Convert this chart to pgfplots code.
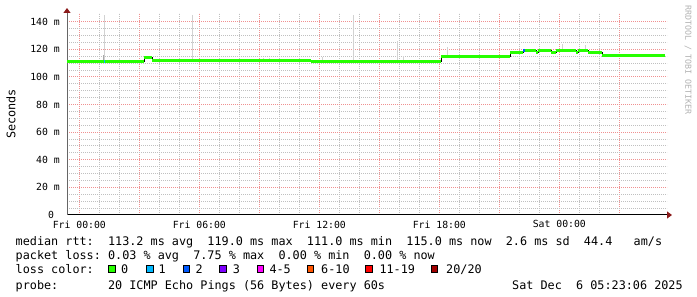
\documentclass[border=0pt]{standalone}
\usepackage{pgfplots}
\pgfplotsset{compat=1.18}
\usepackage{fontspec}
\setmainfont{DejaVu Sans Mono}
\setmonofont{DejaVu Sans Mono}
\usetikzlibrary{arrows.meta}
\definecolor{mgrid}{HTML}{F09090}
\definecolor{ngrid}{HTML}{C0C0C0}
\definecolor{arrowred}{HTML}{8B1A1A}
\definecolor{smoke}{HTML}{D2D2D2}
\definecolor{smokedk}{HTML}{A8A8A8}
\definecolor{lc0}{HTML}{26FF00}
\definecolor{lc1}{HTML}{00B8FF}
\definecolor{lc2}{HTML}{0059FF}
\definecolor{lc3}{HTML}{7E00FF}
\definecolor{lc4}{HTML}{FF00FF}
\definecolor{lc6}{HTML}{FF5500}
\definecolor{lc11}{HTML}{FF0000}
\definecolor{lc20}{HTML}{A00000}
\newcommand{\lgfont}{\fontsize{11.8bp}{14bp}\selectfont}
\newcommand{\tkfont}{\fontsize{9.8bp}{11bp}\selectfont}
\begin{document}
\begin{tikzpicture}
\begin{axis}[
  at={(67bp,82bp)}, anchor=south west,
  scale only axis, width=600bp, height=202bp,
  xmin=-0.617, xmax=29.383, ymin=0, ymax=146.3,
  axis x line=bottom, axis y line=left,
  x axis line style={draw=black, line width=1bp, -{Triangle[length=5bp,width=7bp,color=arrowred,fill=arrowred]}, shorten >=-5bp},
  y axis line style={draw=black!60, line width=1bp, -{Triangle[length=5bp,width=7bp,color=arrowred,fill=arrowred]}, shorten >=-5bp},
  xtick={0,3,...,27},
  xticklabels={Fri 00:00,,Fri 06:00,,Fri 12:00,,Fri 18:00,,Sat 00:00,},
  minor x tick num=2,
  ytick={0,20,...,140},
  yticklabels={0~~,20 m,40 m,60 m,80 m,100 m,120 m,140 m},
  minor y tick num=3,
  major tick length=0pt, minor tick length=0pt,
  grid=both,
  major grid style={mgrid, line width=1bp, dash pattern=on 1bp off 1bp},
  minor grid style={ngrid, line width=1bp, dash pattern=on 1bp off 1bp},
  xticklabel style={font=\tkfont, inner sep=0pt, anchor=north, yshift=-5.5bp},
  yticklabel style={font=\tkfont, inner sep=0pt, anchor=east, xshift=-7bp},
  clip=false,
]
% smoke spikes
\addplot[smoke, line width=1.2bp] coordinates {(1.275,111.3) (1.275,145)};
\addplot[smokedk, line width=1bp] coordinates {(1.22,111.3) (1.22,116)};
\addplot[smoke, line width=1.2bp] coordinates {(5.65,112.2) (5.65,145)};
\addplot[smoke, line width=1.2bp] coordinates {(13.7,111.0) (13.7,145)};
\addplot[smoke, line width=1.5bp] coordinates {(15.9,111.0) (15.9,126)};
\addplot[smoke, line width=1bp] coordinates {(16.2,111.0) (16.2,115.5)};
\addplot[smoke, line width=1bp] coordinates {(12.15,111.0) (12.15,114.6)};
\addplot[smoke, line width=1bp] coordinates {(9.2,112.2) (9.2,113.8)};
\addplot[smoke, line width=1bp] coordinates {(9.5,112.2) (9.5,114)};
\addplot[smoke, line width=1bp] coordinates {(2.0,111.3) (2.0,113.5)};
\addplot[smoke, line width=1bp] coordinates {(18.4,114.6) (18.4,121.6)};
\addplot[smoke, line width=1bp] coordinates {(24.15,119) (24.15,124)};
\addplot[smoke, line width=1bp] coordinates {(25.3,119) (25.3,123)};
\addplot[smokedk, line width=1bp] coordinates {(26.8,115.2) (26.8,116.8)};
\addplot[smokedk, line width=1bp] coordinates {(27.4,115.2) (27.4,116.5)};
\addplot[smokedk, line width=1bp] coordinates {(28.1,115.2) (28.1,116.8)};
\addplot[smokedk, line width=1bp] coordinates {(28.7,115.2) (28.7,116.5)};
% median (black step)
\addplot[black, line width=0.8bp, const plot] coordinates {
(-0.617,111.3) (3.25,114) (3.65,112.2) (11.6,111.0) (18.1,114.6) (21.55,117.6)
(22.2,119) (22.85,117.6) (22.95,119) (23.6,117.6) (23.85,119) (24.85,117.6)
(24.95,119) (25.45,117.6) (26.15,115.2) (29.3,115.2)};
% median coloured by loss
\addplot[lc0, line width=3bp, jump mark left] coordinates {
(-0.617,111.3) (3.25,114) (3.65,112.2) (11.6,111.0) (18.1,114.6) (21.55,117.6)
(22.2,119) (22.85,117.6) (22.95,119) (23.6,117.6) (23.85,119) (24.85,117.6)
(24.95,119) (25.45,117.6) (26.15,115.2) (29.3,115.2)};
\addplot[lc1, line width=3bp] coordinates {(1.22,111.3) (1.29,111.3)};
\addplot[lc2, line width=3bp] coordinates {(22.2,119) (22.26,119)};
\end{axis}
% y label and watermark
\node[font=\lgfont, rotate=90] at (11bp,183bp) {Seconds};
\node[font=\fontsize{8.3bp}{9bp}\selectfont, text=black!30, rotate=-90] at (688bp,237bp) {RRDTOOL / TOBI OETIKER};
% legend
\node[font=\lgfont, anchor=base west, inner sep=0pt] at (15.5bp,51.5bp) {median rtt:~~113.2~ms~avg~~119.0~ms~max~~111.0~ms~min~~115.0~ms~now~~2.6~ms~sd~~44.4~~~am/s};
\node[font=\lgfont, anchor=base west, inner sep=0pt] at (15.5bp,37.7bp) {packet~loss:~0.03~\%~avg~~7.75~\%~max~~0.00~\%~min~~0.00~\%~now};
\node[font=\lgfont, anchor=base west, inner sep=0pt] at (15.5bp,23.7bp) {loss~color:};
\foreach \xs/\col/\xl/\lab in {108.3/lc0/121/0, 146/lc1/158.3/1, 182.7/lc2/195.3/2, 219.3/lc3/232.7/3, 256.7/lc4/269.3/4-5, 306.9/lc6/321/6-10, 365/lc11/379.3/11-19, 430.7/lc20/446/20\slash 20} {
  \draw[black, line width=1bp, fill=\col] (\xs bp+0.5bp,24.2bp) rectangle (\xs bp+7bp,31.2bp);
  \node[font=\lgfont, anchor=base west, inner sep=0pt] at (\xl bp,23.7bp) {\lab};
}
\node[font=\lgfont, anchor=base west, inner sep=0pt] at (15.5bp,8bp) {probe:~~~~~~~20~ICMP~Echo~Pings~(56~Bytes)~every~60s};
\node[font=\lgfont, anchor=base west, inner sep=0pt] at (512bp,8bp) {Sat~Dec~~6~05:23:06~2025};
\pgfresetboundingbox
\path[use as bounding box] (0,0) rectangle (697bp,297bp);
\end{tikzpicture}
\end{document}
